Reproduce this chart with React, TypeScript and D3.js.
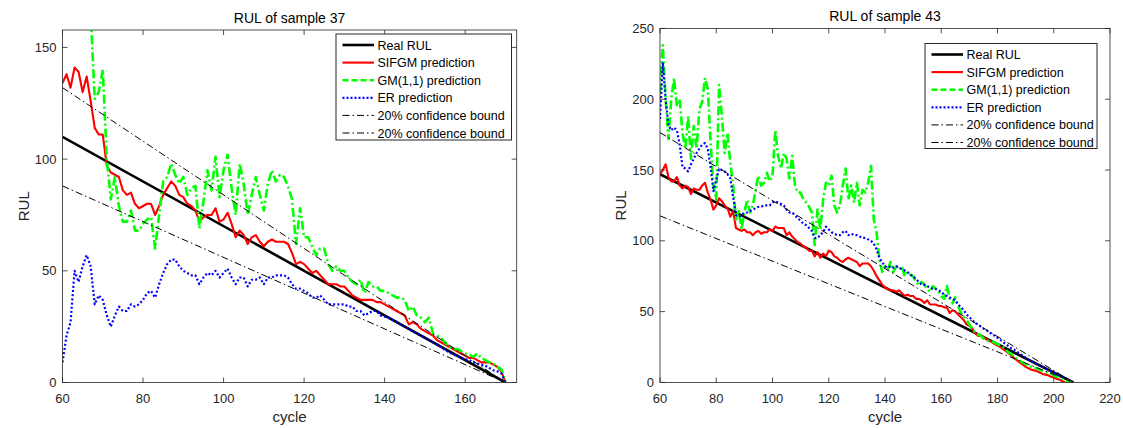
import * as d3 from 'd3';
import React from 'react';

const FONT = '"Liberation Sans", Arial, Helvetica, sans-serif';
const AXIS = '#262626';

// ---- sample 37 (cycles 60..170) ----
const start37 = 60;
const sifgm37 = [
  134, 138, 132, 141, 139, 130, 137, 126, 114, 111,
  111, 97, 94, 93, 92, 86, 84, 85, 80, 78,
  79, 80, 80, 75, 79, 84, 87, 90, 88, 84,
  83, 80, 79, 77, 72, 74, 75, 75, 78, 72,
  73, 76, 71, 65, 68, 66, 62, 65, 66, 63,
  61, 63, 64, 63, 63, 63, 62, 58, 53, 54,
  53, 51, 49, 50, 48, 46, 44, 44, 44, 43,
  43, 41, 39, 38, 37, 37, 37, 37, 36, 36,
  35, 34, 33, 32, 31, 30, 26, 27, 26, 24,
  23, 22, 21, 19, 18, 17, 16, 15, 14, 13,
  12, 11, 11, 10, 9, 9, 9, 8, 7, 5,
  0,
];
const gm37 = [
  230, 224, 218, 212, 205, 198, 190, 165, 127, 130,
  140, 100, 82, 92, 79, 72, 72, 77, 68, 68,
  71, 73, 74, 60, 75, 90, 92, 98, 93, 89,
  92, 84, 87, 88, 69, 81, 95, 86, 101, 83,
  95, 102, 87, 75, 98, 89, 75, 84, 92, 84,
  77, 89, 95, 90, 93, 92, 88, 82, 62, 78,
  65, 65, 61, 57, 60, 60, 53, 50, 52, 50,
  50, 47, 45, 44, 46, 40, 45, 43, 43, 41,
  41, 40, 39, 38, 38, 37, 32, 34, 30, 29,
  27, 29, 22, 21, 20, 18, 16, 15, 15, 14,
  13, 12.5, 11.5, 13, 11, 10, 9, 8.5, 7, 6,
  0,
];
const er37 = [
  9, 21, 27, 50, 45, 52, 57, 52, 35, 39,
  37, 30, 25, 30, 34, 32, 32, 35, 34, 35,
  37, 40, 41, 38, 44, 49, 53, 55, 55, 52,
  50, 49, 48, 48, 44, 47, 49, 48, 50, 47,
  49, 51, 47, 44, 47, 47, 43, 46, 46, 47,
  44, 47, 47, 48, 48, 48, 47, 44, 42, 42,
  41, 40, 38, 38, 39, 37, 35, 35, 35, 35,
  35, 34, 34, 32, 32, 30, 31, 32, 32, 30,
  29.5, 29, 28, 27, 26, 25, 24, 23, 22, 21,
  20, 19, 18, 17, 16, 14.5, 13.5, 12.5, 12, 11,
  10.5, 10, 9, 8.5, 8, 7.5, 6.5, 5.5, 5, 4,
  0,
];
const real37: [number, number][] = [[60, 110], [170, 0]];
const upper37: [number, number][] = [[60, 132], [170, 0]];
const lower37: [number, number][] = [[60, 88], [170, 0]];
const xTicks37 = [60, 80, 100, 120, 140, 160];
const yTicks37 = [0, 50, 100, 150];

// ---- sample 43 (cycles 60..207) ----
const start43 = 60;
const sifgm43 = [
  147, 150, 154, 145, 142, 142, 145, 139, 137, 139,
  138, 133, 137, 136, 136, 139, 141, 134, 129, 122,
  125, 130, 128, 125, 123, 117, 121, 109, 108, 107,
  108, 106, 106, 104, 106, 107, 105, 106, 106, 108,
  107, 110, 109, 109, 109, 104, 106, 103, 101, 99,
  98, 96, 95, 93, 93, 89, 92, 88, 91, 89,
  93, 92, 89, 88, 86, 85, 87, 88, 87, 86,
  85, 82, 84, 84, 84, 82, 79, 75, 72, 69,
  67, 66, 65, 65, 64, 65, 63, 61, 62, 61,
  61, 59, 59, 58, 56, 58, 55, 55, 55, 54,
  54, 53, 53, 49, 51, 50, 48, 46, 44, 41,
  40, 38, 35, 33, 33, 32, 30.5, 29.5, 28.5, 27,
  26, 25, 23.5, 22, 20.5, 19, 17, 15.5, 14, 12.5,
  11, 10, 9, 8.5, 8, 7, 6, 5.5, 5, 4,
  3.5, 2.5, 2, 1, 0,
];
const gm43 = [
  205, 238, 200, 172, 200, 215, 195, 200, 176, 165,
  188, 158, 181, 165, 193, 198, 215, 207, 169, 139,
  129, 210, 188, 162, 176, 155, 139, 115, 122, 108,
  120, 129, 120, 125, 136, 146, 139, 141, 148, 142,
  146, 178, 160, 151, 162, 158, 144, 160, 139, 134,
  134, 129, 127, 124, 120, 97, 122, 108, 129, 141,
  139, 146, 125, 120, 125, 139, 151, 129, 139, 127,
  141, 125, 136, 134, 141, 153, 115, 106, 87, 78,
  82, 80, 85, 78, 82, 80, 82, 75, 78, 76,
  75, 71, 69, 71, 69, 66, 64, 68, 66, 64,
  61, 59, 68, 59, 56, 60, 54, 49, 46, 44,
  41, 38, 35, 34, 33, 31, 30, 29, 29, 28,
  27, 26, 25, 23, 21, 20, 18, 16, 15, 14,
  13, 12, 11, 10, 10, 9, 8, 7, 7, 6,
  5, 4, 3, 2.5, 2, 1, 0.5, 0,
];
const er43 = [
  186, 226, 200, 182, 178, 180, 178, 168, 152, 151,
  149, 154, 158, 162, 165, 168, 169, 165, 152, 135,
  143, 151, 150, 149, 147, 144, 131, 118, 117, 118,
  120, 120, 121, 122, 123, 124, 124, 125, 125, 125,
  127, 128, 127, 126, 125, 122, 120, 120, 118, 116,
  114, 112, 111, 109, 107, 102, 102, 104, 106, 110,
  108, 106, 105, 104, 104, 106, 107, 104, 105, 104,
  104, 103, 102, 102, 101, 100, 98, 94, 88, 85,
  82, 81, 82, 81, 82, 81, 80, 79, 78, 76,
  75, 73, 71, 69, 69, 68, 67, 66, 66, 65,
  64, 62, 61, 60, 59, 58, 55, 53, 51, 48,
  46, 44, 42, 41, 39.5, 38, 37, 35.5, 34, 33,
  31.5, 30, 28.5, 27, 25.5, 24, 23, 21.5, 20, 19,
  17.5, 16, 15, 14, 13, 12, 11, 10, 9, 8,
  7, 6, 5, 4, 3, 2, 1, 0,
];
const real43: [number, number][] = [[60, 147], [207, 0]];
const upper43: [number, number][] = [[60, 176.4], [207, 0]];
const lower43: [number, number][] = [[60, 117.6], [207, 0]];
const xTicks43 = [60, 80, 100, 120, 140, 160, 180, 200, 220];
const yTicks43 = [0, 50, 100, 150, 200, 250];

const legendLabels = [
  'Real RUL',
  'SIFGM prediction',
  'GM(1,1) prediction',
  'ER prediction',
  '20% confidence bound',
  '20% confidence bound',
];

const styles = [
  { color: '#000000', width: 2.6, dash: undefined as string | undefined, legendDash: undefined as string | undefined },
  { color: '#ff0000', width: 2.1, dash: undefined, legendDash: undefined },
  { color: '#00ff00', width: 2.6, dash: '9,3,2,3', legendDash: '6,3' },
  { color: '#0000ff', width: 2.2, dash: '2,2.2', legendDash: '2,2' },
  { color: '#000000', width: 1, dash: '7,3,1.5,3', legendDash: '7,3,1.5,3' },
  { color: '#000000', width: 1, dash: '7,3,1.5,3', legendDash: '7,3,1.5,3' },
];

type Box = { left: number; right: number; top: number; bottom: number };

function Panel(props: {
  id: string;
  title: string;
  box: Box;
  xDomain: [number, number];
  yDomain: [number, number];
  xTicks: number[];
  yTicks: number[];
  start: number;
  sifgm: number[];
  gm: number[];
  er: number[];
  real: [number, number][];
  upper: [number, number][];
  lower: [number, number][];
  legend: Box;
}) {
  const { box, legend } = props;
  const x = d3.scaleLinear().domain(props.xDomain).range([box.left, box.right]);
  const y = d3.scaleLinear().domain(props.yDomain).range([box.bottom, box.top]);
  const line = d3
    .line<[number, number]>()
    .x(d => x(d[0]))
    .y(d => y(d[1]));
  const pts = (vals: number[]) => vals.map((v, i) => [props.start + i, v] as [number, number]);

  const series = [
    line(props.real),
    line(pts(props.sifgm)),
    line(pts(props.gm)),
    line(pts(props.er)),
    line(props.upper),
    line(props.lower),
  ];

  const tick = 5;
  const cx = (box.left + box.right) / 2;
  const cy = (box.top + box.bottom) / 2;
  const rowH = 17.6;

  return (
    <g>
      <defs>
        <clipPath id={props.id}>
          <rect x={box.left} y={box.top} width={box.right - box.left} height={box.bottom - box.top} />
        </clipPath>
      </defs>
      <rect x={box.left} y={box.top} width={box.right - box.left} height={box.bottom - box.top} fill="#fff" />

      <g clipPath={`url(#${props.id})`} fill="none" strokeLinejoin="round">
        {series.map((d, i) => (
          <path
            key={i}
            d={d || ''}
            stroke={styles[i].color}
            strokeWidth={styles[i].width}
            strokeDasharray={styles[i].dash}
          />
        ))}
      </g>

      {/* axes box and ticks */}
      <g stroke={AXIS} strokeWidth={0.8} fill="none">
        <rect x={box.left} y={box.top} width={box.right - box.left} height={box.bottom - box.top} />
        {props.xTicks.map(t => (
          <g key={`x${t}`}>
            <line x1={x(t)} x2={x(t)} y1={box.bottom} y2={box.bottom - tick} />
            <line x1={x(t)} x2={x(t)} y1={box.top} y2={box.top + tick} />
          </g>
        ))}
        {props.yTicks.map(t => (
          <g key={`y${t}`}>
            <line x1={box.left} x2={box.left + tick} y1={y(t)} y2={y(t)} />
            <line x1={box.right} x2={box.right - tick} y1={y(t)} y2={y(t)} />
          </g>
        ))}
      </g>

      <g fontFamily={FONT} fontSize={13} fill={AXIS}>
        {props.xTicks.map(t => (
          <text key={`xl${t}`} x={x(t)} y={box.bottom + 20.5} textAnchor="middle">
            {t}
          </text>
        ))}
        {props.yTicks.map(t => (
          <text key={`yl${t}`} x={box.left - 6} y={y(t) + 4.5} textAnchor="end">
            {t}
          </text>
        ))}
      </g>

      <text x={cx} y={box.top - 7} textAnchor="middle" fontFamily={FONT} fontSize={14} fill="#000">
        {props.title}
      </text>
      <text x={cx} y={422} textAnchor="middle" fontFamily={FONT} fontSize={15} fill={AXIS}>
        cycle
      </text>
      <text
        transform={`translate(${box.left - 34},${cy}) rotate(-90)`}
        textAnchor="middle"
        fontFamily={FONT}
        fontSize={15}
        fill={AXIS}
      >
        RUL
      </text>

      {/* legend */}
      <rect
        x={legend.left}
        y={legend.top}
        width={legend.right - legend.left}
        height={legend.bottom - legend.top}
        fill="#fff"
        stroke={AXIS}
        strokeWidth={1}
      />
      {legendLabels.map((lab, i) => {
        const ry = legend.top + 11 + i * rowH;
        return (
          <g key={lab + i}>
            <line
              x1={legend.left + 6.5}
              x2={legend.left + 38}
              y1={ry}
              y2={ry}
              stroke={styles[i].color}
              strokeWidth={styles[i].width}
              strokeDasharray={styles[i].legendDash}
            />
            <text x={legend.left + 41.5} y={ry + 4.5} fontFamily={FONT} fontSize={12.5} fill="#000">
              {lab}
            </text>
          </g>
        );
      })}
    </g>
  );
}

export default function App() {
  return (
    <svg
      width={1123}
      height={428}
      style={{ position: 'absolute', left: 0, top: 0, background: '#fff' }}
    >
      <rect x={0} y={0} width={1123} height={428} fill="#fff" />
      <Panel
        id="clip37"
        title="RUL of sample 37"
        box={{ left: 62.5, right: 516.7, top: 30, bottom: 382.5 }}
        xDomain={[60, 172.8]}
        yDomain={[0, 157.8]}
        xTicks={xTicks37}
        yTicks={yTicks37}
        start={start37}
        sifgm={sifgm37}
        gm={gm37}
        er={er37}
        real={real37}
        upper={upper37}
        lower={lower37}
        legend={{ left: 336, right: 511.5, top: 34, bottom: 140 }}
      />
      <Panel
        id="clip43"
        title="RUL of sample 43"
        box={{ left: 660, right: 1110, top: 28.4, bottom: 382.4 }}
        xDomain={[60, 220]}
        yDomain={[0, 250]}
        xTicks={xTicks43}
        yTicks={yTicks43}
        start={start43}
        sifgm={sifgm43}
        gm={gm43}
        er={er43}
        real={real43}
        upper={upper43}
        lower={lower43}
        legend={{ left: 925, right: 1097, top: 43.5, bottom: 148.5 }}
      />
    </svg>
  );
}
